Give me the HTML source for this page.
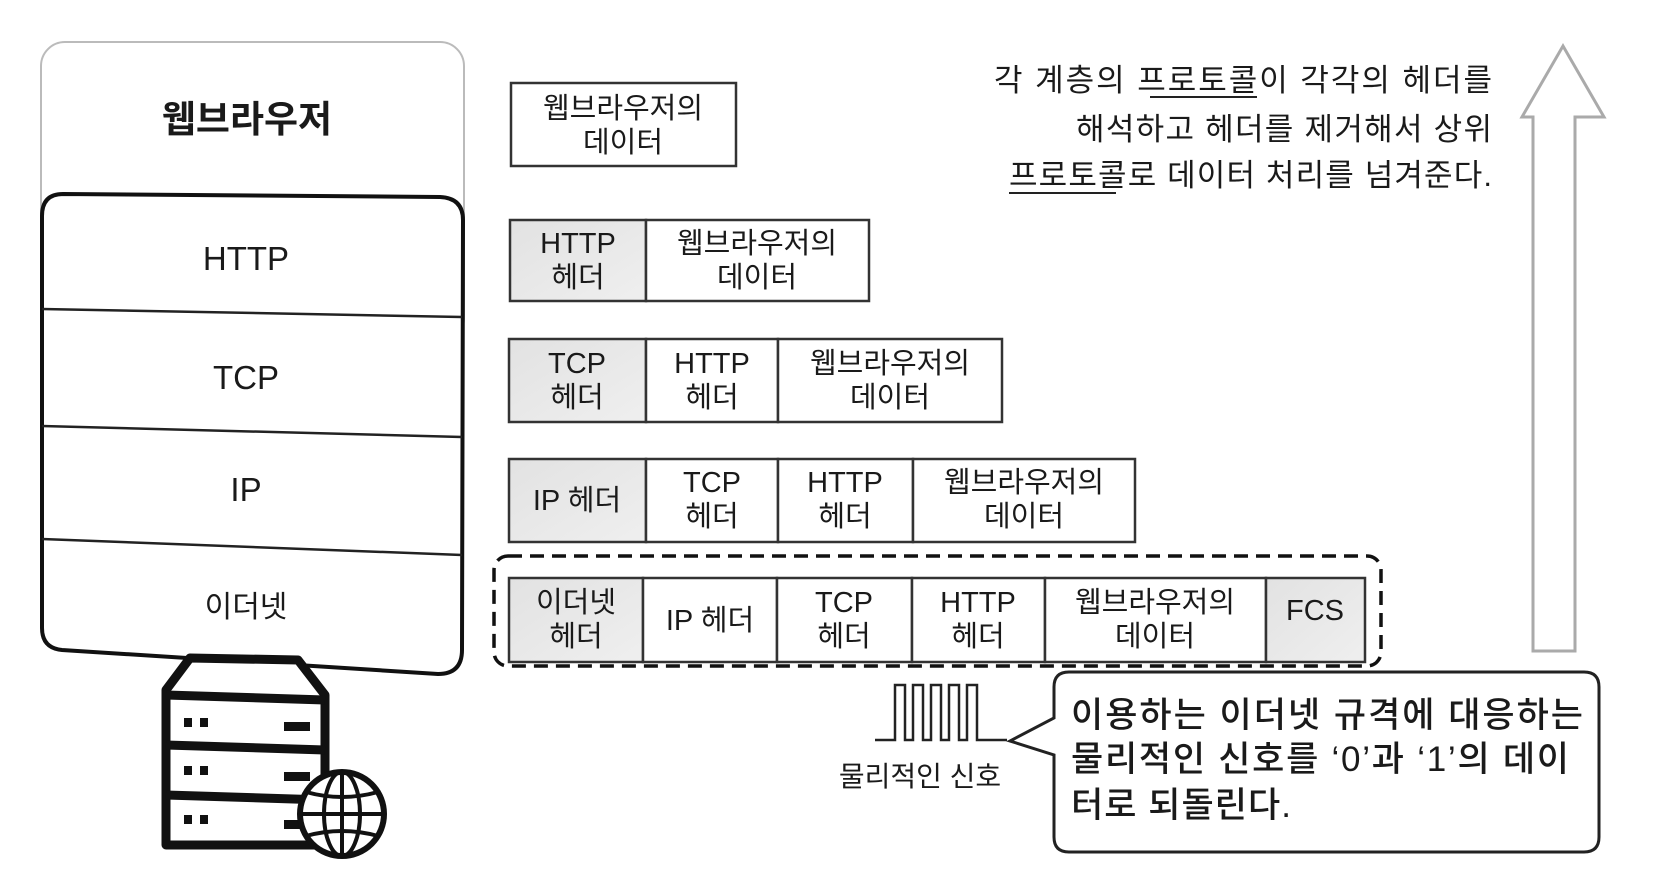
<!DOCTYPE html>
<html><head><meta charset="utf-8"><style>
html,body{margin:0;padding:0;background:#fff;}
svg{display:block;}
text{font-family:"Liberation Sans","Noto Sans CJK KR",sans-serif;fill:#1a1a1a;}
</style></head><body>
<svg width="1664" height="896" viewBox="0 0 1664 896" xmlns="http://www.w3.org/2000/svg">
<defs>
<linearGradient id="g" x1="0" y1="0" x2="1" y2="1"><stop offset="0" stop-color="#e2e2e2"/><stop offset="1" stop-color="#efefef"/></linearGradient>
</defs>
<rect x="41" y="42" width="423" height="300" rx="24" fill="#fff" stroke="#bbb" stroke-width="2"/>
<text x="247" y="132" font-size="37" font-weight="bold" text-anchor="middle">웹브라우저</text>
<path d="M63 194 L440 197 Q463 198 463 220 L462 650 Q462 674 438 674 L62 650 Q42 648 42 628 L42 216 Q42 194 63 194 Z" fill="#fff" stroke="#111" stroke-width="4"/>
<line x1="42" y1="309" x2="462" y2="317" stroke="#222" stroke-width="2.5"/>
<line x1="42" y1="426" x2="462" y2="437" stroke="#222" stroke-width="2.5"/>
<line x1="42" y1="539" x2="462" y2="555" stroke="#222" stroke-width="2.5"/>
<text x="246" y="270" font-size="33" text-anchor="middle">HTTP</text>
<text x="246" y="389" font-size="33" text-anchor="middle">TCP</text>
<text x="246" y="501" font-size="33" text-anchor="middle">IP</text>
<text x="246" y="617" font-size="30" text-anchor="middle">이더넷</text>
<g stroke="#111" stroke-width="9" fill="#fff" stroke-linejoin="round">
<path d="M166 740 L166 690 L190 658 L298 660 L325 695 L325 845 L166 845 Z"/>
<line x1="166" y1="695" x2="325" y2="700"/>
<line x1="166" y1="745" x2="325" y2="750"/>
<line x1="166" y1="795" x2="325" y2="800"/>
</g>
<g fill="#111">
<rect x="184" y="718" width="8" height="9"/><rect x="200" y="718" width="8" height="9"/><rect x="284" y="722" width="26" height="9"/>
<rect x="184" y="766" width="8" height="9"/><rect x="200" y="766" width="8" height="9"/><rect x="284" y="772" width="26" height="9"/>
<rect x="184" y="815" width="8" height="9"/><rect x="200" y="815" width="8" height="9"/><rect x="284" y="820" width="26" height="9"/>
</g>
<g stroke="#111" stroke-width="4" fill="none">
<circle cx="342" cy="814" r="42" fill="#fff" stroke-width="6"/>
<ellipse cx="342" cy="814" rx="18" ry="42"/>
<line x1="300" y1="814" x2="384" y2="814"/>
<path d="M306 792 Q342 802 378 792"/>
<path d="M306 836 Q342 826 378 836"/>
<line x1="342" y1="772" x2="342" y2="856"/>
</g>
<g stroke="#333" stroke-width="2.5" fill="#fff">
<rect x="511" y="83" width="225" height="83"/>
<rect x="510" y="220" width="136" height="81" fill="url(#g)"/><rect x="646" y="220" width="223" height="81"/>
<rect x="509" y="339" width="137" height="83" fill="url(#g)"/><rect x="646" y="339" width="132" height="83"/><rect x="778" y="339" width="224" height="83"/>
<rect x="509" y="459" width="137" height="83" fill="url(#g)"/><rect x="646" y="459" width="132" height="83"/><rect x="778" y="459" width="135" height="83"/><rect x="913" y="459" width="222" height="83"/>
<rect x="509" y="578" width="134" height="84" fill="url(#g)"/><rect x="643" y="578" width="134" height="84"/><rect x="777" y="578" width="135" height="84"/><rect x="912" y="578" width="133" height="84"/><rect x="1045" y="578" width="221" height="84"/><rect x="1266" y="578" width="99" height="84" fill="url(#g)"/>
</g>
<rect x="494" y="556" width="887" height="110" rx="14" fill="none" stroke="#111" stroke-width="3.5" stroke-dasharray="14 8"/>
<g font-size="29" text-anchor="middle">
<text x="623" y="118">웹브라우저의</text><text x="623" y="152">데이터</text>
<text x="578" y="253">HTTP</text><text x="578" y="287">헤더</text>
<text x="757" y="253">웹브라우저의</text><text x="757" y="287">데이터</text>
<text x="577" y="373">TCP</text><text x="577" y="407">헤더</text>
<text x="712" y="373">HTTP</text><text x="712" y="407">헤더</text>
<text x="890" y="373">웹브라우저의</text><text x="890" y="407">데이터</text>
<text x="577" y="510">IP 헤더</text>
<text x="712" y="492">TCP</text><text x="712" y="526">헤더</text>
<text x="845" y="492">HTTP</text><text x="845" y="526">헤더</text>
<text x="1024" y="492">웹브라우저의</text><text x="1024" y="526">데이터</text>
<text x="576" y="612">이더넷</text><text x="576" y="646">헤더</text>
<text x="710" y="630">IP 헤더</text>
<text x="844" y="612">TCP</text><text x="844" y="646">헤더</text>
<text x="978" y="612">HTTP</text><text x="978" y="646">헤더</text>
<text x="1155" y="612">웹브라우저의</text><text x="1155" y="646">데이터</text>
<text x="1315" y="620">FCS</text>
</g>
<g font-size="31">
<text x="994" y="91" textLength="498" lengthAdjust="spacing">각 계층의 프로토콜이 각각의 헤더를</text>
<text x="1076" y="140" textLength="416" lengthAdjust="spacing">해석하고 헤더를 제거해서 상위</text>
<text x="1009" y="186" textLength="483" lengthAdjust="spacing">프로토콜로 데이터 처리를 넘겨준다.</text>
</g>
<line x1="1150" y1="97" x2="1257" y2="97" stroke="#222" stroke-width="2"/>
<line x1="1009" y1="193" x2="1116" y2="193" stroke="#222" stroke-width="2"/>
<path d="M1533 651 L1533 117 L1522 117 L1563 46 L1604 117 L1575 117 L1575 651 Z" fill="#fff" stroke="#aaa" stroke-width="3"/>
<path d="M875 740 L895 740 L895 685 L905 685 L905 740 L913 740 L913 685 L923 685 L923 740 L931 740 L931 685 L941 685 L941 740 L949 740 L949 685 L959 685 L959 740 L967 740 L967 685 L977 685 L977 740 L1007 740" fill="none" stroke="#222" stroke-width="2.5"/>
<text x="920" y="786" font-size="28" text-anchor="middle">물리적인 신호</text>
<path d="M1069 672 L1584 672 Q1599 672 1599 687 L1599 837 Q1599 852 1584 852 L1069 852 Q1054 852 1054 837 L1054 755 L1010 741 L1054 718 L1054 687 Q1054 672 1069 672 Z" fill="#fff" stroke="#222" stroke-width="3"/>
<g font-size="35" fill="#222" style="font-weight:500">
<text x="1071" y="727" textLength="512" lengthAdjust="spacing">이용하는 이더넷 규격에 대응하는</text>
<text x="1071" y="771" textLength="498" lengthAdjust="spacing">물리적인 신호를 ‘0’과 ‘1’의 데이</text>
<text x="1071" y="817" textLength="220" lengthAdjust="spacing">터로 되돌린다.</text>
</g>
</svg>
</body></html>
